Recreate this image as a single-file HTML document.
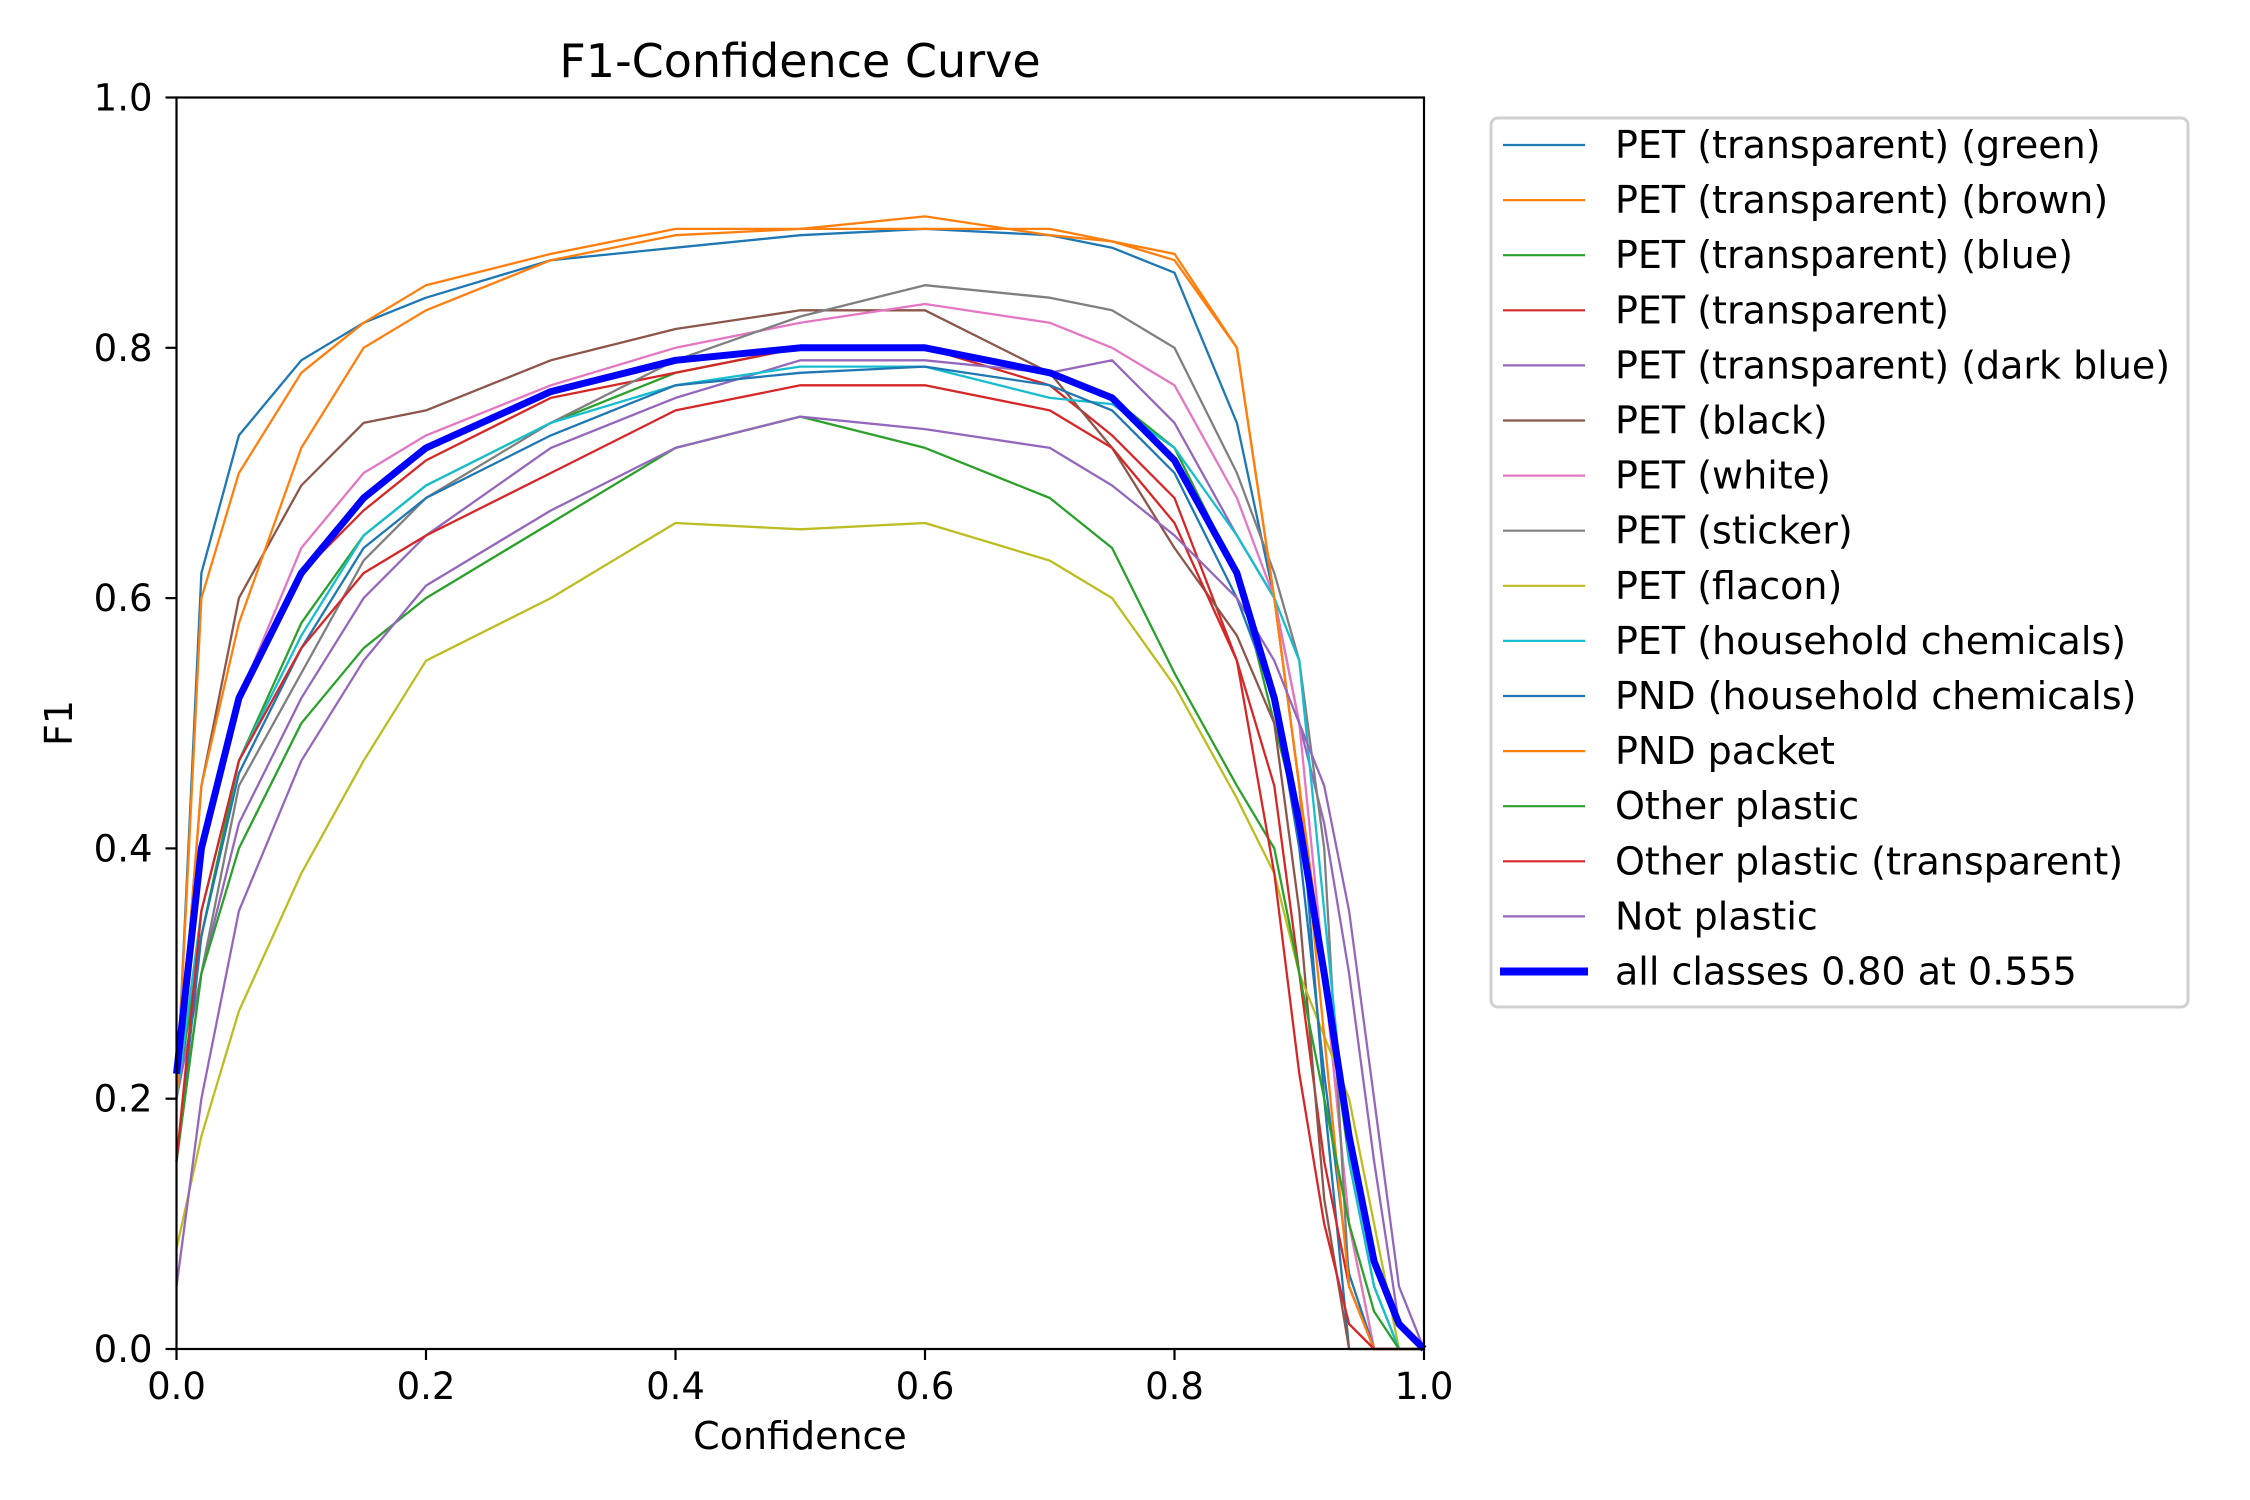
<!DOCTYPE html>
<html><head><meta charset="utf-8"><style>
html,body{margin:0;padding:0;background:#fff}
svg{display:block}
text{font-family:"DejaVu Sans","Liberation Sans",sans-serif;fill:#000}
</style></head><body>
<svg id="chart" width="2250" height="1500" viewBox="0 0 2250 1500">
<rect width="2250" height="1500" fill="#fff"/>
<text x="800" y="77" font-size="46" text-anchor="middle">F1-Confidence Curve</text>
<g id="plot"></g>
<g id="axes"></g>
<text x="800" y="1449" font-size="38" text-anchor="middle">Confidence</text>
<text x="0" y="0" font-size="38" text-anchor="middle" transform="translate(72,723) rotate(-90)">F1</text>
<g id="legend"></g>
</svg>
<script>
const conf = [0,0.02,0.05,0.1,0.15,0.2,0.3,0.4,0.5,0.6,0.7,0.75,0.8,0.85,0.88,0.9,0.92,0.94,0.96,0.98,1.0];
const names = ["PET (transparent) (green)","PET (transparent) (brown)","PET (transparent) (blue)","PET (transparent)","PET (transparent) (dark blue)","PET (black)","PET (white)","PET (sticker)","PET (flacon)","PET (household chemicals)","PND (household chemicals)","PND packet","Other plastic","Other plastic (transparent)","Not plastic"];
const colors = ["#1f77b4","#ff7f0e","#2ca02c","#d62728","#9467bd","#8c564b","#e377c2","#7f7f7f","#bcbd22","#17becf","#1f77b4","#ff7f0e","#2ca02c","#d62728","#9467bd"];
const s0 = [0.2,0.62,0.73,0.79,0.82,0.84,0.87,0.88,0.89,0.895,0.89,0.88,0.86,0.74,0.6,0.45,0.2,0,0,0,0];
const s1 = [0.2,0.6,0.7,0.78,0.82,0.85,0.875,0.895,0.895,0.905,0.89,0.885,0.87,0.8,0.6,0.45,0.3,0.1,0,0,0];
const s2 = [0.2,0.33,0.47,0.58,0.65,0.69,0.74,0.78,0.8,0.8,0.78,0.76,0.72,0.62,0.5,0.42,0.3,0.15,0.05,0,0];
const s3 = [0.2,0.4,0.52,0.62,0.67,0.71,0.76,0.78,0.8,0.8,0.77,0.73,0.68,0.55,0.45,0.3,0.15,0.05,0,0,0];
const s4 = [0.2,0.3,0.42,0.52,0.6,0.65,0.72,0.76,0.79,0.79,0.78,0.79,0.74,0.65,0.6,0.5,0.42,0.3,0.15,0.02,0];
const s5 = [0.2,0.45,0.6,0.69,0.74,0.75,0.79,0.815,0.83,0.83,0.78,0.72,0.64,0.57,0.5,0.35,0.12,0,0,0,0];
const s6 = [0.2,0.4,0.52,0.64,0.7,0.73,0.77,0.8,0.82,0.835,0.82,0.8,0.77,0.68,0.6,0.5,0.3,0.1,0,0,0];
const s7 = [0.15,0.3,0.45,0.54,0.63,0.68,0.74,0.79,0.825,0.85,0.84,0.83,0.8,0.7,0.62,0.55,0.4,0.05,0,0,0];
const s8 = [0.08,0.17,0.27,0.38,0.47,0.55,0.6,0.66,0.655,0.66,0.63,0.6,0.53,0.44,0.38,0.3,0.25,0.2,0.1,0,0];
const s9 = [0.2,0.35,0.47,0.57,0.65,0.69,0.74,0.77,0.785,0.785,0.76,0.755,0.72,0.65,0.6,0.55,0.35,0.15,0.05,0,0];
const s10 = [0.15,0.33,0.46,0.56,0.64,0.68,0.73,0.77,0.78,0.785,0.77,0.75,0.7,0.6,0.52,0.4,0.22,0.06,0,0,0];
const s11 = [0.2,0.45,0.58,0.72,0.8,0.83,0.87,0.89,0.895,0.895,0.895,0.885,0.875,0.8,0.6,0.45,0.25,0.05,0,0,0];
const s12 = [0.15,0.3,0.4,0.5,0.56,0.6,0.66,0.72,0.745,0.72,0.68,0.64,0.54,0.45,0.4,0.3,0.2,0.1,0.03,0,0];
const s13 = [0.15,0.35,0.47,0.56,0.62,0.65,0.7,0.75,0.77,0.77,0.75,0.72,0.66,0.55,0.38,0.22,0.1,0.02,0,0,0];
const s14 = [0.05,0.2,0.35,0.47,0.55,0.61,0.67,0.72,0.745,0.735,0.72,0.69,0.65,0.6,0.55,0.5,0.45,0.35,0.2,0.05,0];
const allClasses = [0.22,0.4,0.52,0.62,0.68,0.72,0.765,0.79,0.8,0.8,0.78,0.76,0.71,0.62,0.52,0.42,0.3,0.17,0.07,0.02,0];
const series = [s0,s1,s2,s3,s4,s5,s6,s7,s8,s9,s10,s11,s12,s13,s14];
const xTicks = [0,0.2,0.4,0.6,0.8,1.0];
const yTicks = [0,0.2,0.4,0.6,0.8,1.0];
const allLabel = "all classes 0.80 at 0.555";

const NS = "http://www.w3.org/2000/svg";
const L=176.5, R=1424, T=97.5, B=1349;
const xs = v => L + v*(R-L);
const ys = v => B - v*(B-T);
function mk(tag, attrs, parent){const e=document.createElementNS(NS,tag);for(const k in attrs)e.setAttribute(k,attrs[k]);parent.appendChild(e);return e;}
const plot=document.getElementById('plot'), axes=document.getElementById('axes'), leg=document.getElementById('legend');
function pts(arr){return arr.map((v,i)=>xs(conf[i]).toFixed(1)+','+ys(v).toFixed(1)).join(' ');}
series.forEach((s,i)=>{
  const p=mk('polyline',{points:pts(s),fill:'none',stroke:colors[i],'stroke-width':2.3,'stroke-linejoin':'round'},plot);
  
  
});
const ac=mk('polyline',{points:pts(allClasses),fill:'none',stroke:'#0000ff','stroke-width':7,'stroke-linejoin':'round'},plot);


const frame=mk('rect',{x:L,y:T,width:R-L,height:B-T,fill:'none',stroke:'#000','stroke-width':2.2},axes);


xTicks.forEach(t=>{
  const ln=mk('line',{x1:xs(t),x2:xs(t),y1:B,y2:B+11,stroke:'#000','stroke-width':2.2},axes);
  
  
  const tx=mk('text',{x:xs(t),y:B+50,'font-size':37,'text-anchor':'middle'},axes);
  tx.textContent=t.toFixed(1);
  
  
});
yTicks.forEach(t=>{
  const ln=mk('line',{x1:L-11,x2:L,y1:ys(t),y2:ys(t),stroke:'#000','stroke-width':2.2},axes);
  
  
  const tx=mk('text',{x:L-24,y:ys(t)+13,'font-size':37,'text-anchor':'end'},axes);
  tx.textContent=t.toFixed(1);
  
  
});
const box=mk('rect',{x:1491,y:118,width:697,height:889,rx:7,fill:'#fff',stroke:'#d0d0d0','stroke-width':3},leg);


const labels=names.concat([allLabel]);
labels.forEach((n,i)=>{
  const y=145+i*55.1;
  const last=i===labels.length-1;
  const ln=mk('line',{x1:last?1500:1503,x2:last?1588:1585,y1:y,y2:y,stroke:last?'#0000ff':colors[i],'stroke-width':last?8:2.2},leg);
  
  
  const tx=mk('text',{x:1615,y:y+13,'font-size':38},leg);
  tx.textContent=n;
  
  
});
</script>
</body></html>
